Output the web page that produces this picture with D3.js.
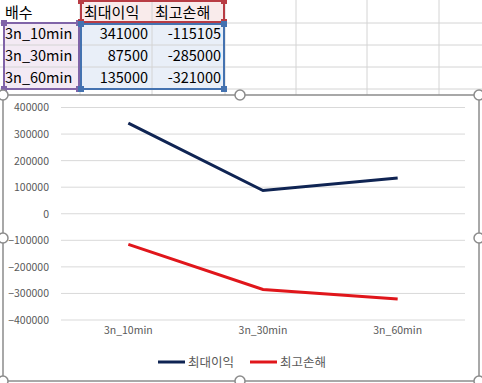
<!DOCTYPE html>
<html>
<head>
<meta charset="utf-8">
<script src="https://cdn.jsdelivr.net/npm/d3@7"></script>
<style>
  body { margin: 0; background: #fff; }
  svg { display: block; }
  .cell { font-family: "Noto Sans CJK KR", "Noto Sans", sans-serif; font-size: 14.5px; fill: #000; }
  .cell.ko { font-size: 15px; }
  .axis text { font-family: "Noto Sans CJK KR", "Noto Sans", sans-serif; font-size: 10.5px; fill: #595959; }
</style>
</head>
<body>
<svg id="sheet" width="482" height="383"></svg>
<script>
let headers = ["배수", "최대이익", "최고손해"];
let categories = ["3n_10min", "3n_30min", "3n_60min"];
let max_profit = [341000, 87500, 135000];
let max_loss = [-115105, -285000, -321000];
let y_ticks = [400000, 300000, 200000, 100000, 0, -100000, -200000, -300000, -400000];
let series_names = ["최대이익", "최고손해"];
let series_colors = ["#0f2453", "#e0161b"];

let svg = d3.select("#sheet");

// spreadsheet grid behind the chart
let col_edges = [80, 152, 225, 296, 367, 439];
let row_edges = [23, 45, 67, 89];

svg.append("rect").attr("x", 4).attr("y", 23).attr("width", 76).attr("height", 66).attr("fill", "#f3eaf4");
svg.append("rect").attr("x", 80).attr("y", 0).attr("width", 145).attr("height", 23).attr("fill", "#f9ebeb");
svg.append("rect").attr("x", 80).attr("y", 23).attr("width", 145).attr("height", 66).attr("fill", "#e9eff8");

svg.selectAll("line.vgrid")
  .data(col_edges)
  .join("line")
  .attr("x1", d => d).attr("x2", d => d)
  .attr("y1", 0).attr("y2", 95)
  .attr("stroke", "#d4d4d4");
svg.selectAll("line.hgrid")
  .data(row_edges)
  .join("line")
  .attr("x1", 0).attr("x2", 482)
  .attr("y1", d => d).attr("y2", d => d)
  .attr("stroke", "#d4d4d4");

// cell texts
svg.append("text").classed("cell ko", true).attr("x", 5).attr("y", 18).text(headers[0]);
svg.append("text").classed("cell ko", true).attr("x", 84).attr("y", 18).text(headers[1]);
svg.append("text").classed("cell ko", true).attr("x", 155).attr("y", 18).text(headers[2]);

categories.forEach((c, i) => {
  let y = 39 + i * 22;
  svg.append("text").classed("cell", true).attr("x", 5).attr("y", y).text(c);
  svg.append("text").classed("cell", true).attr("x", 148).attr("y", y).attr("text-anchor", "end").text(max_profit[i]);
  svg.append("text").classed("cell", true).attr("x", 221).attr("y", y).attr("text-anchor", "end").text(max_loss[i]);
});

// selection ranges
function range_box(x, y, w, h, color) {
  svg.append("rect").attr("x", x).attr("y", y).attr("width", w).attr("height", h)
    .attr("fill", "none").attr("stroke", color).attr("stroke-width", 2);
  [[x, y], [x + w, y], [x, y + h], [x + w, y + h]].forEach(p => {
    svg.append("rect").attr("x", p[0] - 3).attr("y", p[1] - 3).attr("width", 6).attr("height", 6)
      .attr("fill", color);
  });
}
range_box(4, 23, 75, 66, "#8064a8");
range_box(81, 1, 143, 21, "#b83c44");
range_box(81, 24, 143, 65, "#4472b0");

// chart area
svg.append("rect")
  .attr("x", 3).attr("y", 95).attr("width", 476).attr("height", 286)
  .attr("fill", "#fff")
  .attr("stroke", "#8c8c8c")
  .attr("stroke-width", 1.5);

let plot = { left: 61, right: 465, top: 107.5, bottom: 320 };

let scale_x = d3.scaleBand()
  .domain(categories)
  .range([plot.left, plot.right]);
let scale_y = d3.scaleLinear()
  .domain([-400000, 400000])
  .range([plot.bottom, plot.top]);

svg.append("g")
  .selectAll("line")
  .data(y_ticks)
  .join("line")
  .attr("x1", plot.left).attr("x2", plot.right)
  .attr("y1", d => scale_y(d)).attr("y2", d => scale_y(d))
  .attr("stroke", "#d9d9d9");

let axis_y = d3.axisLeft(scale_y).tickValues(y_ticks).tickFormat(d3.format("d")).tickSize(0).tickPadding(12);
svg.append("g")
  .classed("axis", true)
  .attr("transform", "translate(" + plot.left + ",0)")
  .call(axis_y)
  .call(g => g.select(".domain").remove());

let axis_x = d3.axisBottom(scale_x).tickSize(0).tickPadding(7);
svg.append("g")
  .classed("axis", true)
  .attr("transform", "translate(0," + plot.bottom + ")")
  .call(axis_x)
  .call(g => g.select(".domain").remove());

let line = d3.line()
  .x((d, i) => scale_x(categories[i]) + scale_x.bandwidth() / 2)
  .y(d => scale_y(d));

[max_profit, max_loss].forEach((s, k) => {
  svg.append("path")
    .datum(s)
    .attr("d", line)
    .attr("fill", "none")
    .attr("stroke", series_colors[k])
    .attr("stroke-width", 3);
});

// legend
let legend_x = [158, 250];
series_names.forEach((name, k) => {
  let g = svg.append("g").classed("axis", true)
    .attr("transform", "translate(" + legend_x[k] + ",362)");
  g.append("line").attr("x1", 0).attr("x2", 27).attr("y1", 0).attr("y2", 0)
    .attr("stroke", series_colors[k]).attr("stroke-width", 3);
  g.append("text").attr("x", 30).attr("y", 4.5).style("font-size", "12.5px").text(name);
});

// chart handles
let handles = [[3, 95], [240, 95], [479, 95], [3, 238], [479, 238], [3, 381], [240, 381], [479, 381]];
svg.selectAll("circle.handle")
  .data(handles)
  .join("circle")
  .attr("cx", d => d[0]).attr("cy", d => d[1]).attr("r", 5)
  .attr("fill", "#fff").attr("stroke", "#8c8c8c").attr("stroke-width", 1.5);
</script>
</body>
</html>
